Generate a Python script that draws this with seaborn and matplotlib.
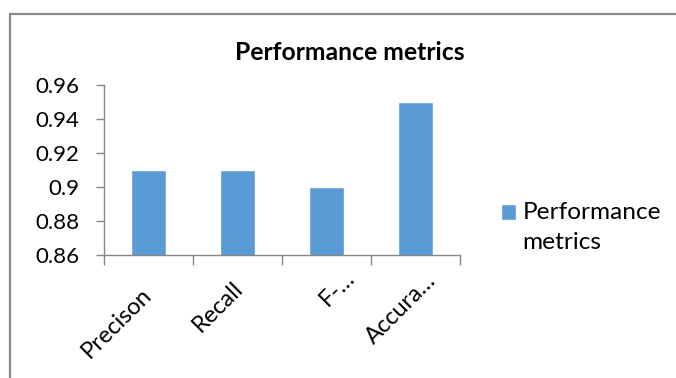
import matplotlib
matplotlib.use("Agg")
import matplotlib.pyplot as plt
import matplotlib.transforms as mtrans
import seaborn as sns
import pandas as pd
from matplotlib.patches import Rectangle
from matplotlib.ticker import FixedLocator, FuncFormatter

categories = ["Precison", "Recall", "F-…", "Accura…"]
values = [0.91, 0.91, 0.90, 0.95]
series_name = "Performance\nmetrics"
title = "Performance metrics"
y_ticks = [0.86, 0.88, 0.90, 0.92, 0.94, 0.96]

# per-label pixel nudges (layout only), matching Excel's placement
label_nudges_px = [(-8, -15), (-5, -9), (17, 2), (10, -1)]

sns.set_theme(style="white")
plt.rcParams['font.family'] = ['Lato', 'DejaVu Sans']

bar_color = "#5B9BD5"
axis_color = "#868686"

fig = plt.figure(figsize=(6.76, 3.78), dpi=100)
ax = fig.add_axes([104/676, 1-255/378, (460-104)/676, (255-85)/378])

df = pd.DataFrame({"cat": categories, "val": values})
sns.barplot(data=df, x="cat", y="val", color=bar_color, width=0.4,
            saturation=1, ax=ax, label=series_name)

ax.set_ylim(0.86, 0.96)
ax.set_xlim(-0.5, len(categories) - 0.5)
ax.yaxis.set_major_locator(FixedLocator(y_ticks))
ax.yaxis.set_major_formatter(FuncFormatter(lambda v, p: f"{round(v, 4):g}"))
ax.set_xlabel("")
ax.set_ylabel("")

for s in ["top", "right"]:
    ax.spines[s].set_visible(False)
for s in ["left", "bottom"]:
    ax.spines[s].set_color(axis_color)
    ax.spines[s].set_linewidth(1.0)

ax.tick_params(axis="y", which="major", direction="out", length=6, width=1,
               color=axis_color, labelsize=16, labelcolor="black", pad=12, left=True)
ax.tick_params(axis="x", which="major", length=0, labelsize=17,
               labelcolor="black", pad=10)
ax.set_xticks(range(len(categories)))
ax.set_xticklabels(categories, rotation=45, ha="right", rotation_mode="anchor")
for lab, (dx, dy) in zip(ax.get_xticklabels(), label_nudges_px):
    off = mtrans.ScaledTranslation(dx/100, dy/100, fig.dpi_scale_trans)
    lab.set_transform(lab.get_transform() + off)
ax.set_xticks([i - 0.5 for i in range(len(categories) + 1)], minor=True)
ax.tick_params(axis="x", which="minor", direction="out", length=7, width=1,
               color=axis_color, bottom=True)

fig.text(350/676, 1-52/378, title, ha="center", va="center",
         fontsize=17.8, fontweight="bold", color="black")

leg = ax.legend(loc="center left", bbox_to_anchor=(501/676, 1-227.5/378),
                bbox_transform=fig.transFigure, frameon=False, fontsize=17.6,
                handlelength=0.63, handleheight=0.63, handletextpad=0.25,
                borderaxespad=0, borderpad=0)
for t in leg.get_texts():
    t.set_color("black")
    t.set_linespacing(1.55)
for h in leg.legend_handles:
    h.set_y(h.get_y() + 11)

fig.patches.append(Rectangle((10/676, -0.05), 1.0, 1-14/378 + 0.05,
                             transform=fig.transFigure, fill=False,
                             edgecolor="#888888", linewidth=1.6, zorder=0))

fig.savefig("out.png", dpi=100)
